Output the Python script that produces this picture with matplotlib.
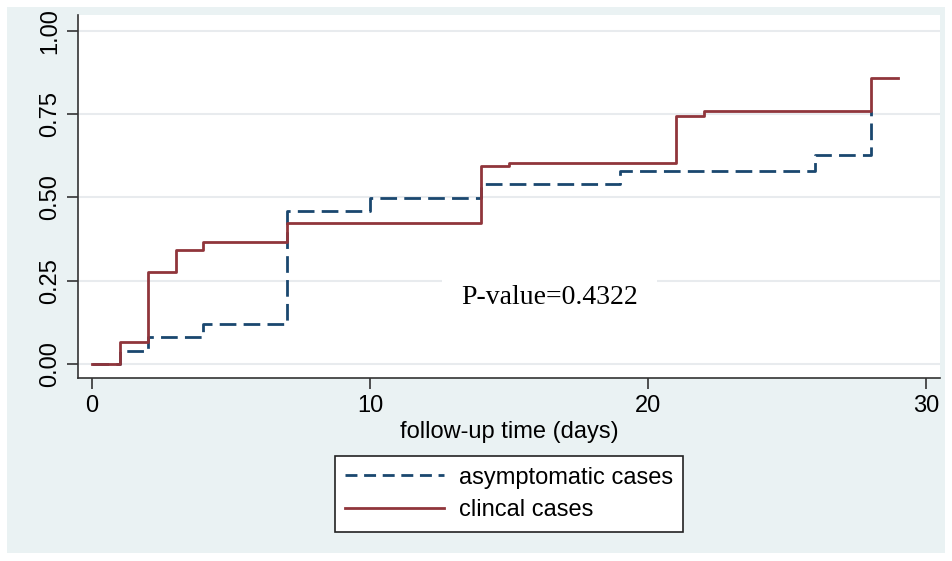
import matplotlib
matplotlib.use("Agg")
import matplotlib.pyplot as plt
from matplotlib.patches import Rectangle
from matplotlib.lines import Line2D

# Data (Kaplan-Meier style cumulative incidence)
asym_t = [0, 1, 2, 4, 7, 10, 14, 19, 26, 28]
asym_y = [0.0, 0.04, 0.08, 0.12, 0.458, 0.497, 0.54, 0.58, 0.627, 0.76]

clin_t = [0, 1, 2, 3, 4, 7, 14, 15, 21, 22, 28, 29]
clin_y = [0.0, 0.067, 0.277, 0.342, 0.367, 0.424, 0.595, 0.603, 0.746, 0.760, 0.859, 0.859]

xticks = [0, 10, 20, 30]
yticks = [0.0, 0.25, 0.50, 0.75, 1.00]
ytick_labels = ["0.00", "0.25", "0.50", "0.75", "1.00"]
series_labels = ["asymptomatic cases", "clincal cases"]
xlabel = "follow-up time (days)"
ptext = "P-value=0.4322"

navy = "#1a476f"
maroon = "#90353b"
bg = "#eaf2f3"

W, H = 952, 561
fig = plt.figure(figsize=(W / 100, H / 100), dpi=100, facecolor="white")

# outer graph region
fig.patches.append(Rectangle((7 / W, 1 - 553 / H), (945 - 7) / W, (553 - 7) / H,
                             transform=fig.transFigure, facecolor=bg, edgecolor="none", zorder=-1))

ax = fig.add_axes([78 / W, 1 - 378 / H, (940 - 78) / W, (378 - 15) / H])
ax.set_zorder(1)
ax.set_facecolor("white")
ax.set_xlim(-0.51, 30.5)
ax.set_ylim(-0.042, 1.048)

for s in ["top", "right"]:
    ax.spines[s].set_visible(False)
for s in ["left", "bottom"]:
    ax.spines[s].set_color("#333333")
    ax.spines[s].set_linewidth(1.2)

ax.set_yticks(yticks)
ax.set_yticklabels(ytick_labels)
ax.set_xticks(xticks)
ax.grid(axis="y", color="#e8ebee", linewidth=1.5)
ax.set_axisbelow(True)

font = ["Liberation Sans", "DejaVu Sans"]
ax.tick_params(axis="both", direction="out", length=8, width=1.2, color="#333333",
               labelsize=17, pad=4)
for lab in ax.get_xticklabels():
    lab.set_fontfamily(font)
for lab in ax.get_yticklabels():
    lab.set_fontfamily(font)
    lab.set_rotation(90)
    lab.set_va("center")

ax.step(asym_t, asym_y, where="post", color=navy, linewidth=2.0,
        linestyle=(0, (6, 2.6)), label=series_labels[0], zorder=3)
ax.step(clin_t, clin_y, where="post", color=maroon, linewidth=2.0,
        label=series_labels[1], zorder=4)

ax.text(16.45, 0.201, ptext, fontsize=20, family=["Liberation Serif", "DejaVu Serif"],
        ha="center", va="center", zorder=5,
        bbox=dict(facecolor="white", edgecolor="none", pad=14))

ax.set_xlabel(xlabel, fontsize=17, family=font, labelpad=3)

handles = [Line2D([], [], color=navy, linewidth=2.0, linestyle=(0, (4.3, 2.4))),
           Line2D([], [], color=maroon, linewidth=2.0)]
leg = fig.legend(handles, series_labels, loc="center",
                 bbox_to_anchor=(509 / W, 1 - 494 / H),
                 prop={"family": font, "size": 17}, frameon=True, fancybox=False,
                 framealpha=1, edgecolor="#222222", handlelength=4.2, handletextpad=0.6,
                 labelspacing=0.45, borderpad=0.45)
leg.get_frame().set_linewidth(1.2)
leg.get_frame().set_facecolor("white")

fig.savefig("out.png", dpi=100, facecolor="white")
